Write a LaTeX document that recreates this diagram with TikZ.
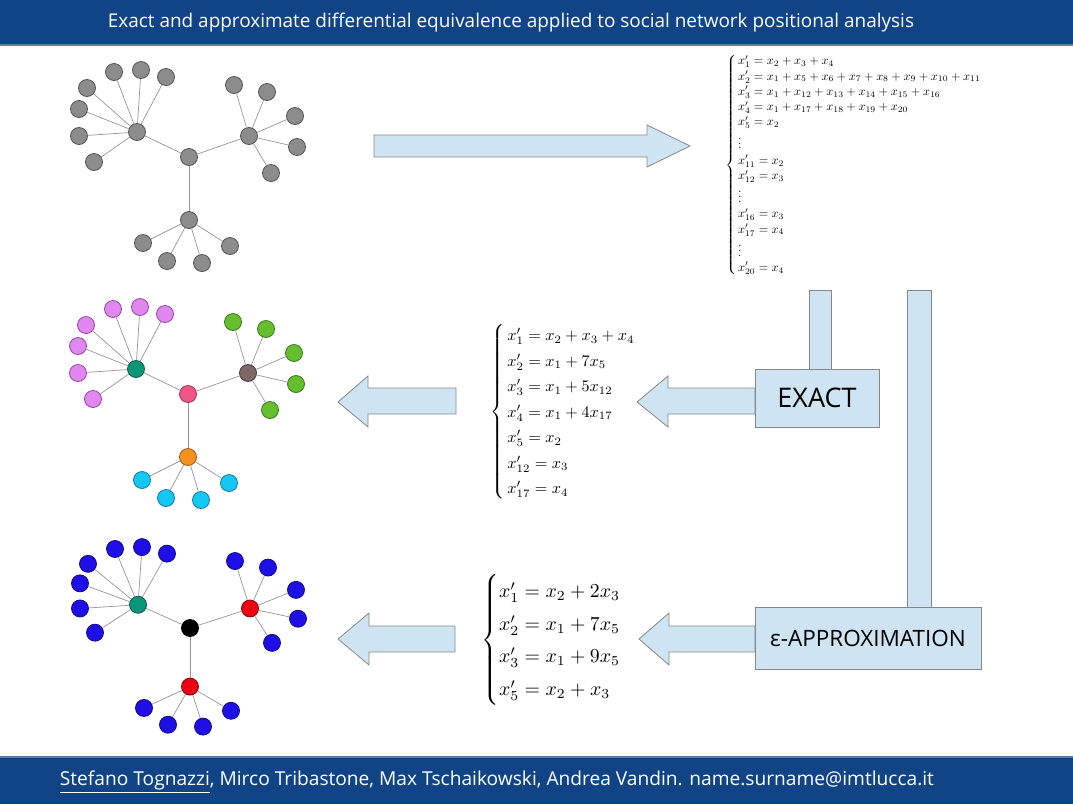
\documentclass[tikz,border=0pt]{standalone}
\usepackage{fontspec}
\newfontfamily\cf{Open Sans}
\definecolor{hdr}{RGB}{16,68,134}
\definecolor{hdrline}{RGB}{85,125,180}
\definecolor{afill}{RGB}{207,228,243}
\definecolor{aline}{RGB}{135,135,135}
\definecolor{edgec}{RGB}{150,150,150}
\definecolor{gfill}{RGB}{140,140,140}\definecolor{gline}{RGB}{85,85,85}
\definecolor{vfill}{RGB}{224,135,240}\definecolor{vline}{RGB}{150,70,160}
\definecolor{grfill}{RGB}{100,190,45}\definecolor{grline}{RGB}{60,120,30}
\definecolor{cfill}{RGB}{20,200,245}\definecolor{cline}{RGB}{20,120,160}
\definecolor{pfill}{RGB}{240,85,135}\definecolor{pline}{RGB}{160,50,80}
\definecolor{tfill}{RGB}{10,150,120}\definecolor{tline}{RGB}{10,90,70}
\definecolor{brfill}{RGB}{125,105,105}\definecolor{brline}{RGB}{70,60,60}
\definecolor{ofill}{RGB}{245,145,30}\definecolor{oline}{RGB}{160,90,20}
\definecolor{bfill}{RGB}{30,15,230}\definecolor{bline}{RGB}{20,10,130}
\definecolor{rfill}{RGB}{235,0,20}\definecolor{rline}{RGB}{130,0,10}
\tikzset{
  nd/.style={circle,minimum size=17pt,inner sep=0pt,line width=0.8pt},
  edge/.style={draw=edgec,line width=0.7pt},
  blk/.style={fill=afill,draw=aline,line width=0.8pt},
  boxnode/.style={blk,inner sep=0pt,font=\cf},
  eqn/.style={inner sep=0pt,anchor=west},
  gnode/.style={fill=gfill,draw=gline},
}
\newcommand\mytree[4]{%
\begin{scope}[shift={(#2,#3)},yscale=#4]
  \node[nd,ctr] (#1c) at (0,0) {};
  \node[nd,lh] (#1L) at (-52,-25) {};
  \node[nd,rh] (#1R) at (60,-21) {};
  \node[nd,bh] (#1B) at (0,63) {};
  \draw[edge] (#1c) -- (#1L);
  \draw[edge] (#1c) -- (#1R);
  \draw[edge] (#1c) -- (#1B);
  \foreach \p [count=\i] in {(-75,-85),(-48,-87),(-23,-80),(-102,-69),(-110,-48),(-110,-21),(-95,5)}{
    \node[nd,ll] (#1l\i) at \p {};
    \draw[edge] (#1L) -- (#1l\i);}
  \foreach \p [count=\i] in {(45,-72),(78,-65),(106,-41),(108,-10),(82,16)}{
    \node[nd,rl] (#1r\i) at \p {};
    \draw[edge] (#1R) -- (#1r\i);}
  \foreach \p [count=\i] in {(-46,86),(-22,104),(13,106),(41,89)}{
    \node[nd,bl] (#1b\i) at \p {};
    \draw[edge] (#1B) -- (#1b\i);}
\end{scope}}
\begin{document}
\begin{tikzpicture}[x=1pt,y=-1pt]
\useasboundingbox (0,0) rectangle (1073,804);
\fill[white] (0,0) rectangle (1073,804);
% header and footer
\fill[hdr] (0,0) rectangle (1073,45);
\draw[hdrline,line width=1.2pt] (0,45) -- (1073,45);
\fill[hdr] (0,757) rectangle (1073,804);
\draw[hdrline,line width=1.2pt] (0,757) -- (1073,757);
\node[text=white,inner sep=0pt] (title) at (511,23) {\cf\resizebox{806pt}{!}{Exact and approximate differential equivalence applied to social network positional analysis}};
\node[text=white,inner sep=0pt] (footer) at (497,782) {\cf\resizebox{874pt}{!}{\underline{Stefano Tognazzi}, Mirco Tribastone, Max Tschaikowski, Andrea Vandin. name.surname@imtlucca.it}};
% trees
\tikzset{ctr/.style={gnode},lh/.style={gnode},rh/.style={gnode},bh/.style={gnode},ll/.style={gnode},rl/.style={gnode},bl/.style={gnode}}
\mytree{a}{189}{157}{1}
\tikzset{ctr/.style={fill=pfill,draw=pline},lh/.style={fill=tfill,draw=tline},rh/.style={fill=brfill,draw=brline},bh/.style={fill=ofill,draw=oline},
  ll/.style={fill=vfill,draw=vline},rl/.style={fill=grfill,draw=grline},bl/.style={fill=cfill,draw=cline}}
\mytree{b}{188}{394}{1}
\tikzset{ctr/.style={fill=black,draw=black},lh/.style={fill=tfill,draw=tline},rh/.style={fill=rfill,draw=rline},bh/.style={fill=rfill,draw=rline},
  ll/.style={fill=bfill,draw=bline},rl/.style={fill=bfill,draw=bline},bl/.style={fill=bfill,draw=bline}}
\mytree{c}{190}{628}{0.93}
% block arrows and bars
\draw[blk] (374,135) -- (647,135) -- (647,125) -- (690,146) -- (647,167) -- (647,157) -- (374,157) -- cycle;
\draw[blk] (809,290) rectangle (831,369);
\draw[blk] (907,290) rectangle (931,607);
\draw[blk] (456,388) -- (368,388) -- (368,376) -- (338,402) -- (368,427) -- (368,414) -- (456,414) -- cycle;
\draw[blk] (755,388) -- (668,388) -- (668,376) -- (637,402) -- (668,427) -- (668,414) -- (755,414) -- cycle;
\draw[blk] (455,626) -- (369,626) -- (369,613) -- (338,639) -- (369,665) -- (369,652) -- (455,652) -- cycle;
\draw[blk] (755,626) -- (669,626) -- (669,613) -- (639,639) -- (669,665) -- (669,652) -- (755,652) -- cycle;
% boxes
\node[boxnode,minimum width=124pt,minimum height=58pt] (exact) at (817,398) {\fontsize{27}{30}\selectfont EXACT};
\node[boxnode,minimum width=226pt,minimum height=62pt] (approx) at (868,638) {\fontsize{22.5}{26}\selectfont ε-APPROXIMATION};
% equation systems
\node[eqn,scale=1.22] (sys0) at (725,165) {$\renewcommand\arraystretch{1.045}\left\{\begin{array}{@{\,}l@{}}
x_1' = x_2 + x_3 + x_4\\
x_2' = x_1 + x_5 + x_6 + x_7 + x_8 + x_9 + x_{10} + x_{11}\\
x_3' = x_1 + x_{12} + x_{13} + x_{14} + x_{15} + x_{16}\\
x_4' = x_1 + x_{17} + x_{18} + x_{19} + x_{20}\\
x_5' = x_2\\
\vdots\\
x_{11}' = x_2\\
x_{12}' = x_3\\
\vdots\\
x_{16}' = x_3\\
x_{17}' = x_4\\
\vdots\\
x_{20}' = x_4
\end{array}\right.$};
\node[eqn,scale=1.615] (sysA) at (490,412) {$\renewcommand\arraystretch{1.316}\left\{\begin{array}{@{\,}l@{}}
x_1' = x_2 + x_3 + x_4\\
x_2' = x_1 + 7x_5\\
x_3' = x_1 + 5x_{12}\\
x_4' = x_1 + 4x_{17}\\
x_5' = x_2\\
x_{12}' = x_3\\
x_{17}' = x_4
\end{array}\right.$};
\node[eqn,scale=1.98] (sysB) at (481,640) {$\renewcommand\arraystretch{1.37}\left\{\begin{array}{@{}l@{}}
x_1' = x_2 + 2x_3\\
x_2' = x_1 + 7x_5\\
x_3' = x_1 + 9x_5\\
x_5' = x_2 + x_3
\end{array}\right.$};
\end{tikzpicture}
\end{document}
